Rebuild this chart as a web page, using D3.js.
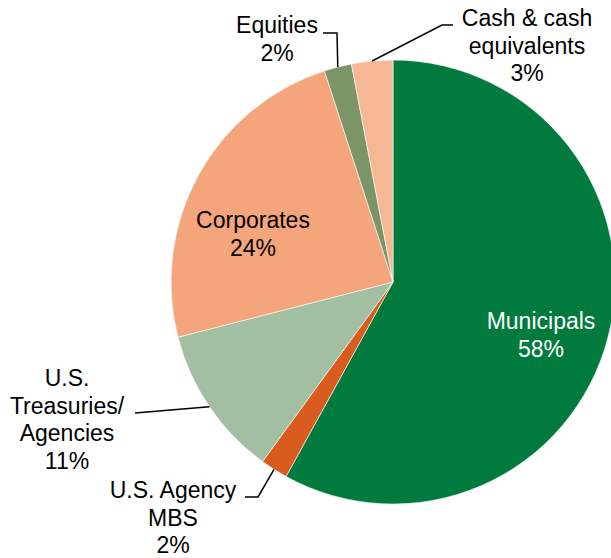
<!DOCTYPE html>
<html>
<head>
<meta charset="utf-8">
<script src="https://cdn.jsdelivr.net/npm/d3@7"></script>
<style>
  body { margin: 0; background: #fff; }
  text { font-family: "Liberation Sans", Arial, sans-serif; font-size: 23px; }
</style>
</head>
<body>
<div id="chart"></div>
<script>
// slices, clockwise from 12 o'clock
let categories = ["Municipals", "U.S. Agency MBS", "U.S. Treasuries/ Agencies", "Corporates", "Equities", "Cash & cash equivalents"];
let values = [58, 2, 11, 24, 2, 3];
let colors = ["#007a3d", "#d95b1e", "#a3bfa1", "#f5a57b", "#7b9567", "#f6b794"];
let labelLines = [
    ["Municipals", "58%"],
    ["U.S. Agency", "MBS", "2%"],
    ["U.S.", "Treasuries/", "Agencies", "11%"],
    ["Corporates", "24%"],
    ["Equities", "2%"],
    ["Cash & cash", "equivalents", "3%"]
];

let width = 611, height = 558;
let cx = 393, cy = 282, radius = 222;
let lineH = 27.5;

// label anchor (x centre, first baseline) and leader elbow, per slice
let labelPos = [
    {x: 541, y: 329, inside: true},
    {x: 173, y: 498, elbow: [[258, 497], [245, 497]]},
    {x: 67, y: 386, elbow: [[135, 413]]},
    {x: 253, y: 228, inside: true},
    {x: 277, y: 33, elbow: [[337, 33], [323, 33]]},
    {x: 527, y: 26, elbow: [[442, 25], [453, 25]]}
];

let data = categories.map((c, i) => ({name: c, value: values[i], color: colors[i], lines: labelLines[i], pos: labelPos[i]}));

let svg = d3.select("#chart").append("svg")
    .attr("width", width)
    .attr("height", height);

let g = svg.append("g")
    .attr("transform", `translate(${cx}, ${cy})`);

let pie = d3.pie().value(d => d.value).sort(null);
let arc = d3.arc().innerRadius(0).outerRadius(radius);

let arcs = pie(data);

g.selectAll("path.slice")
    .data(arcs)
    .enter()
    .append("path")
    .attr("class", "slice")
    .attr("d", arc)
    .attr("fill", d => d.data.color)
    .attr("stroke", "#fff")
    .attr("stroke-width", 0.6);

// leader lines from slice edge midpoint
arcs.forEach(d => {
    let p = d.data.pos;
    if (p.inside) return;
    let mid = (d.startAngle + d.endAngle) / 2;
    let start = [cx + radius * Math.sin(mid), cy - radius * Math.cos(mid)];
    let pts = [start].concat(p.elbow);
    svg.append("path")
        .attr("d", d3.line()(pts))
        .attr("fill", "none")
        .attr("stroke", "#000")
        .attr("stroke-width", 1.5);
});

// labels
arcs.forEach(d => {
    let p = d.data.pos;
    let t = svg.append("text")
        .attr("text-anchor", "middle")
        .attr("fill", d.data.name === "Municipals" ? "#fff" : "#000");
    d.data.lines.forEach((ln, j) => {
        t.append("tspan")
            .attr("x", p.x)
            .attr("y", p.y + j * lineH)
            .text(ln);
    });
});
</script>
</body>
</html>
